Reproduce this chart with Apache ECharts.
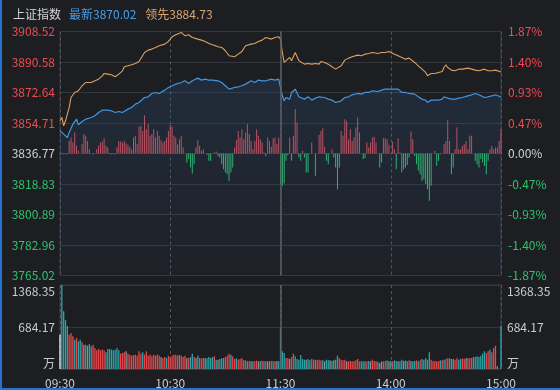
<!DOCTYPE html>
<html><head><meta charset="utf-8">
<script src="https://cdn.jsdelivr.net/npm/echarts@6/dist/echarts.min.js"></script>
<style>
html,body{margin:0;padding:0;background:#1d1e22;}
#wrap{position:relative;width:560px;height:390px;overflow:hidden;background:#1d1e22;}
#c{width:560px;height:390px;}
#bl{position:absolute;left:0;top:0;width:2px;height:390px;background:#2673cf;}
#bb{position:absolute;left:0;bottom:0;width:560px;height:2px;background:#2673cf;}
</style></head>
<body><div id="wrap"><div id="c"></div><div id="bl"></div><div id="bb"></div></div>
<script>
const indexName = '上证指数';
const prevClose = 3836.77;
const latestValue = 3870.02;
const leadValue = 3884.73;
const priceTicks = ['3765.02','3782.96','3800.89','3818.83','3836.77','3854.71','3872.64','3890.58','3908.52'];
const pctTicks = ['-1.87%','-1.40%','-0.93%','-0.47%','0.00%','0.47%','0.93%','1.40%','1.87%'];
const volTicks = ['万','684.17','1368.35'];
const timeTicks = ['09:30','10:30','11:30','14:00','15:00'];

// [minute index, value]
const leadLine = [[0,3856.00],[1,3857.96],[2,3853.06],[3,3856.00],[4,3855.02],[5,3863.84],[6,3869.72],[8,3872.67],[10,3873.65],[12,3876.59],[14,3878.55],[15,3879.53],[17,3878.55],[19,3879.53],[21,3880.51],[23,3882.47],[24,3883.84],[26,3883.45],[28,3883.06],[30,3881.88],[32,3883.45],[34,3885.41],[35,3887.76],[37,3888.35],[39,3888.94],[41,3889.72],[43,3890.90],[44,3891.29],[46,3896.19],[48,3897.57],[50,3898.16],[52,3899.13],[54,3900.12],[55,3900.51],[57,3901.10],[59,3902.66],[61,3905.41],[63,3906.58],[64,3906.98],[66,3907.96],[68,3906.00],[70,3906.58],[72,3905.02],[73,3904.04],[75,3904.04],[77,3903.45],[79,3902.66],[81,3901.49],[83,3900.70],[84,3901.10],[86,3899.53],[88,3899.13],[90,3897.18],[92,3894.23],[93,3893.25],[95,3893.64],[97,3895.21],[99,3896.78],[101,3900.12],[102,3900.70],[104,3901.10],[106,3901.49],[108,3902.66],[110,3903.45],[112,3905.02],[113,3904.62],[115,3904.04],[117,3905.02],[119,3905.41],[120,3904.04],
[121,3896.19],[122,3890.31],[123,3889.33],[125,3893.25],[126,3891.29],[128,3896.19],[129,3895.21],[130,3891.29],[131,3890.31],[133,3889.33],[135,3889.72],[137,3889.33],[139,3889.72],[141,3889.33],[142,3890.90],[144,3890.31],[146,3889.33],[148,3887.76],[150,3886.39],[151,3885.41],[153,3888.35],[155,3891.68],[157,3892.86],[159,3893.64],[160,3894.23],[162,3894.63],[164,3894.23],[166,3895.21],[168,3895.61],[170,3896.19],[171,3895.21],[173,3895.61],[175,3896.19],[177,3896.19],[179,3896.78],[180,3896.19],[182,3895.21],[184,3894.23],[186,3893.25],[188,3892.27],[190,3892.86],[191,3892.86],[193,3890.31],[195,3888.35],[197,3886.39],[199,3884.43],[200,3882.47],[202,3883.84],[204,3883.84],[206,3884.43],[208,3885.02],[209,3887.37],[210,3888.94],[211,3887.37],[213,3885.80],[215,3885.41],[217,3886.39],[219,3886.39],[220,3887.37],[222,3886.98],[224,3886.39],[226,3885.80],[228,3885.41],[229,3885.80],[231,3886.39],[233,3885.41],[235,3885.41],[237,3885.80],[238,3886.39],[240,3884.73]];

const latestLine = [[0,3850.12],[2,3848.16],[4,3846.20],[5,3849.14],[7,3854.04],[9,3856.98],[10,3853.65],[12,3855.61],[14,3856.98],[15,3856.00],[17,3857.96],[19,3858.94],[21,3860.90],[23,3862.27],[24,3862.86],[26,3862.27],[28,3861.88],[30,3860.90],[32,3861.49],[34,3860.90],[35,3861.49],[37,3862.86],[39,3863.84],[41,3865.80],[43,3866.78],[44,3867.76],[46,3869.72],[48,3870.12],[50,3872.08],[52,3872.67],[54,3872.08],[55,3872.67],[57,3874.04],[59,3875.61],[61,3876.59],[63,3877.57],[64,3878.55],[66,3878.55],[68,3879.53],[70,3877.96],[72,3879.53],[73,3880.51],[75,3881.10],[77,3879.92],[79,3880.51],[81,3879.92],[83,3879.92],[84,3880.51],[86,3879.53],[88,3878.55],[90,3876.59],[92,3874.63],[93,3874.63],[95,3875.61],[97,3876.00],[99,3876.59],[101,3877.57],[102,3878.55],[104,3879.53],[106,3878.55],[108,3879.92],[110,3879.53],[112,3879.53],[113,3879.92],[115,3880.51],[117,3879.92],[119,3880.51],[120,3879.53],
[121,3870.70],[122,3867.76],[123,3869.72],[125,3868.75],[126,3872.67],[128,3874.63],[129,3873.65],[130,3870.12],[131,3869.72],[133,3868.75],[135,3870.12],[137,3868.16],[139,3869.33],[141,3870.12],[142,3871.29],[144,3869.72],[146,3868.75],[148,3868.16],[150,3866.78],[151,3865.80],[153,3867.76],[155,3869.72],[157,3870.12],[159,3871.29],[160,3871.69],[162,3872.08],[164,3871.69],[166,3872.67],[168,3872.67],[170,3873.65],[171,3873.65],[173,3873.25],[175,3874.04],[177,3874.63],[179,3874.63],[180,3875.61],[182,3874.63],[184,3874.63],[186,3872.67],[188,3872.67],[190,3872.08],[191,3872.67],[193,3871.69],[195,3870.12],[197,3868.75],[199,3868.16],[200,3866.78],[202,3868.16],[204,3868.16],[206,3868.16],[208,3868.75],[209,3870.12],[210,3871.29],[211,3869.33],[213,3868.75],[215,3868.75],[217,3869.33],[219,3869.72],[220,3870.12],[222,3870.70],[224,3871.29],[226,3872.08],[228,3871.29],[229,3870.12],[231,3869.72],[233,3870.12],[235,3870.70],[237,3871.29],[238,3872.08],[240,3870.02]];

// per-minute red/green bars (index points above / below previous close)
const flowBars = [-0.5,-0.5,-0.5,-0.5,-0.5,7.4,9.4,6.5,12.3,4.5,
1.6,0,5.5,11.4,10.4,7.4,2.5,0,-0.4,0,
2.5,4.5,6.5,7.1,9.0,4.5,3.5,-0.4,-0.4,-0.4,
-0.4,3.5,7.4,7.1,6.5,7.4,5.9,5.1,3.9,2.5,
9.4,10.4,5.5,15.7,16.3,13.3,22.5,14.3,17.2,10.4,
11.4,14.3,9.4,13.3,10.4,7.8,6.5,7.4,9.4,13.3,
16.9,15.7,10.4,9.4,5.5,8.4,10.4,3.5,0,-5.3,
-3.3,-8.2,-11.8,-6.3,3.5,7.8,4.5,1.6,2.5,0,
-0.8,-4.3,-4.3,0,0.6,1.2,-1.4,-2.4,-6.3,-9.2,
-11.2,-12.2,-16.1,-11.2,-8.2,3.5,8.0,13.3,9.4,14.3,
8.4,12.3,17.2,11.4,7.4,2.5,7.4,14.3,10.4,8.4,
6.5,0.6,-1.4,9.4,7.4,3.9,9.0,9.4,5.5,9.4,
-18.0,-19.0,-17.6,-4.3,-1,9.4,-4.3,10.4,26.1,18.2,
-2.4,-4.3,1.6,-2.4,-11.2,-11.2,0,6.5,0,-13.1,
0,11.0,13.3,14.9,3.9,-4.3,-6.3,0,2.5,-2.4,
-8.2,-21.0,-8.2,13.3,10.4,20.2,19.2,8.4,14.3,7.4,
9.4,15.3,21.2,12.3,0,-3.3,-2.7,6.5,3.5,6.5,
9.4,9.8,6.5,0,-8.2,-5.3,9.0,9.0,8.4,5.1,
0,7.1,2.5,-9.2,9.0,0.6,-11.2,-9.2,-8.2,-6.7,
-2.4,12.9,8.4,-1.4,-6.3,-10.2,-12.2,-16.1,-15.1,-18.0,
-21.0,-27.8,-19.0,0,1.6,-7.3,-4.3,-0.5,0,5.5,
7.4,19.6,7.4,-12.2,-8.2,2.5,15.3,2.5,2.5,4.5,
5.5,7.4,2.5,10.4,10.4,0,-4.3,-6.3,-8.2,-3.3,
-5.3,-7.3,-12.2,-4.3,2.5,4.5,2.5,3.5,3.5,7.4,
14.3];

// per-minute volume (万) and tick direction (1 up, -1 down, 0 flat, 2 opening)
const volume = [559,1368.35,940,800,700,559,586,532,478,505,
451,478,434,396,396,380,407,369,396,342,
304,326,304,315,304,272,326,326,315,304,
315,342,304,250,261,272,288,250,234,217,
228,234,217,288,250,272,234,288,217,234,
206,234,217,234,217,195,179,195,179,217,
195,217,234,234,217,228,217,195,217,179,
179,195,250,195,179,217,179,174,179,179,
174,195,179,195,206,152,152,163,174,179,
195,217,250,234,206,163,174,152,163,179,
141,141,125,130,125,125,125,136,125,130,
136,125,130,125,125,130,125,125,130,125,
652,288,261,179,179,163,195,250,206,163,
152,228,163,152,152,163,141,163,152,152,
141,152,141,141,125,152,141,141,130,141,
152,217,174,152,141,152,125,125,130,125,
125,141,163,125,125,125,125,125,130,125,
152,130,125,119,98,125,125,130,141,125,
130,125,141,130,125,125,152,130,141,125,
141,130,125,130,141,125,141,163,152,174,
152,272,152,125,130,125,125,141,141,152,
163,174,174,163,163,152,174,152,163,174,
163,179,174,179,179,195,195,206,195,217,
250,288,261,288,315,272,342,380,43,0,
706];
const volDir = [2,-1,-1,-1,-1,1,1,1,-1,1,
-1,-1,1,0,-1,0,-1,-1,1,1,
1,1,1,1,1,-1,-1,-1,-1,-1,
-1,-1,-1,1,1,1,0,1,1,1,
1,1,1,1,1,-1,1,1,1,1,
1,1,1,1,1,0,1,1,-1,1,
1,1,1,1,1,-1,1,1,1,0,
1,-1,-1,1,0,-1,1,1,1,0,
-1,-1,-1,-1,1,-1,0,-1,-1,-1,
1,1,1,-1,1,1,-1,1,1,1,
-1,1,-1,1,0,-1,1,1,0,-1,
1,-1,1,0,-1,1,-1,1,0,-1,
-1,-1,-1,1,1,0,1,1,-1,-1,
-1,-1,-1,-1,0,-1,-1,1,1,-1,
1,1,1,-1,0,-1,-1,0,-1,0,
-1,-1,1,1,1,1,0,1,1,1,
1,1,1,1,-1,-1,-1,1,-1,0,
1,1,1,-1,0,0,1,1,-1,0,
-1,1,-1,-1,0,-1,-1,0,-1,-1,
1,0,-1,-1,1,-1,1,-1,-1,-1,
-1,-1,1,1,1,1,1,-1,1,-1,
1,1,-1,-1,0,1,1,-1,-1,1,
1,0,1,1,1,-1,-1,-1,-1,-1,
-1,-1,1,1,-1,1,1,1,0,0,
-1];

const UP = '#ee4b50', DOWN = '#2fc26f', FLAT = '#d2d2d2';
const priceRange = 71.75, priceStep = 17.9375;
const volMax = 1368.35;

const chart = echarts.init(document.getElementById('c'), null, {renderer: 'canvas'});
const labelFont = 'Noto Sans CJK SC';
const tickIdx = v => Math.round((Number(v) + priceRange) / priceStep);
const sideColor = v => { const i = tickIdx(v); return i > 4 ? UP : (i < 4 ? DOWN : FLAT); };

const volColors = {'1': '#e6474c', '-1': '#2aa5a9', '0': '#8e8e8e', '2': '#f2f2f2'};

chart.setOption({
  animation: false,
  backgroundColor: '#1d1e22',
  title: {
    left: 8, top: 3,
    text: '{n|' + indexName + '}{l|最新' + latestValue.toFixed(2) + '}{d|领先' + leadValue.toFixed(2) + '}',
    textStyle: {
      rich: {
        n: {color: '#d4d4d4', fontSize: 12, fontWeight: 'normal', fontFamily: labelFont},
        l: {color: '#4a9de6', fontSize: 12, fontWeight: 'normal', fontFamily: labelFont, padding: [0, 0, 0, 8]},
        d: {color: '#d9a56c', fontSize: 12, fontWeight: 'normal', fontFamily: labelFont, padding: [0, 0, 0, 9]}
      }
    }
  },
  grid: [
    {left: 60, right: 59, top: 31.5, height: 244, show: true, borderColor: '#3c3d43', borderWidth: 1, backgroundColor: 'transparent'},
    {left: 60, right: 59, top: 285, height: 84, show: true, borderColor: '#3c3d43', borderWidth: 1, backgroundColor: 'transparent'}
  ],
  xAxis: [
    {type: 'value', gridIndex: 0, min: 0, max: 240, interval: 60,
     axisLine: {show: false}, axisTick: {show: false}, axisLabel: {show: false},
     splitLine: {show: true, lineStyle: {color: '#55565c', type: [3, 3], width: 1}}},
    {type: 'value', gridIndex: 1, min: 0, max: 240, interval: 60,
     axisLine: {show: false}, axisTick: {show: false},
     axisLabel: {show: true, color: '#cbcbcb', fontSize: 12, fontFamily: labelFont, margin: 8,
                 formatter: v => timeTicks[Math.round(v / 60)]},
     splitLine: {show: true, lineStyle: {color: '#55565c', type: [3, 3], width: 1}}}
  ],
  yAxis: [
    {type: 'value', gridIndex: 0, position: 'left', min: -priceRange, max: priceRange, interval: priceStep,
     axisLine: {show: false}, axisTick: {show: false},
     axisLabel: {color: v => sideColor(v), fontSize: 12, fontFamily: labelFont, margin: 5,
                 formatter: v => priceTicks[tickIdx(v)]},
     splitLine: {show: true, lineStyle: {color: '#35363b', width: 1}}},
    {type: 'value', gridIndex: 0, position: 'right', min: -priceRange, max: priceRange, interval: priceStep,
     axisLine: {show: false}, axisTick: {show: false},
     axisLabel: {color: v => sideColor(v), fontSize: 12, fontFamily: labelFont, margin: 7,
                 formatter: v => pctTicks[tickIdx(v)]},
     splitLine: {show: false}},
    {type: 'value', gridIndex: 1, position: 'left', min: 0, max: volMax, interval: volMax / 2,
     axisLine: {show: false}, axisTick: {show: false},
     axisLabel: {color: '#cbcbcb', fontSize: 12, fontFamily: labelFont, margin: 5,
                 verticalAlignMinLabel: 'bottom', verticalAlignMaxLabel: 'top',
                 formatter: v => volTicks[Math.round(v / (volMax / 2))]},
     splitLine: {show: true, lineStyle: {color: '#35363b', width: 1}}},
    {type: 'value', gridIndex: 1, position: 'right', min: 0, max: volMax, interval: volMax / 2,
     axisLine: {show: false}, axisTick: {show: false},
     axisLabel: {color: '#cbcbcb', fontSize: 12, fontFamily: labelFont, margin: 6,
                 verticalAlignMinLabel: 'bottom', verticalAlignMaxLabel: 'top',
                 formatter: v => volTicks[Math.round(v / (volMax / 2))]},
     splitLine: {show: false}}
  ],
  series: [
    {type: 'line', name: '最新', xAxisIndex: 0, yAxisIndex: 0, showSymbol: false, smooth: false,
     data: latestLine.map(p => [p[0], +(p[1] - prevClose).toFixed(2)]),
     lineStyle: {color: '#3f96e2', width: 1.2}, itemStyle: {color: '#3f96e2'},
     areaStyle: {origin: 'start', color: new echarts.graphic.LinearGradient(0, 0, 0, 1, [
       {offset: 0, color: 'rgba(50,95,150,0.30)'}, {offset: 1, color: 'rgba(50,95,150,0.06)'}])},
     markLine: {silent: true, symbol: 'none', label: {show: false},
       lineStyle: {color: '#5c5d63', type: 'solid', width: 1.5}, data: [{xAxis: 120}]}},
    {type: 'bar', name: 'flow', xAxisIndex: 0, yAxisIndex: 0, barWidth: 1,
     data: flowBars.map((v, i) => [i, v]),
     itemStyle: {color: p => p.value[1] >= 0 ? '#d3505b' : '#2dbf6d'}},
    {type: 'line', name: '领先', xAxisIndex: 0, yAxisIndex: 0, showSymbol: false, smooth: false,
     data: leadLine.map(p => [p[0], +(p[1] - prevClose).toFixed(2)]),
     lineStyle: {color: '#d9a062', width: 1.1}, itemStyle: {color: '#d9a062'}},
    {type: 'bar', name: 'vol', xAxisIndex: 1, yAxisIndex: 2, barWidth: 1.3,
     data: volume.map((v, i) => ({value: [i, v], itemStyle: {color: volColors[String(volDir[i])]}})),
     markLine: {silent: true, symbol: 'none', label: {show: false},
       lineStyle: {color: '#5c5d63', type: 'solid', width: 1.5}, data: [{xAxis: 120}]}}
  ]
});
</script>
</body></html>
